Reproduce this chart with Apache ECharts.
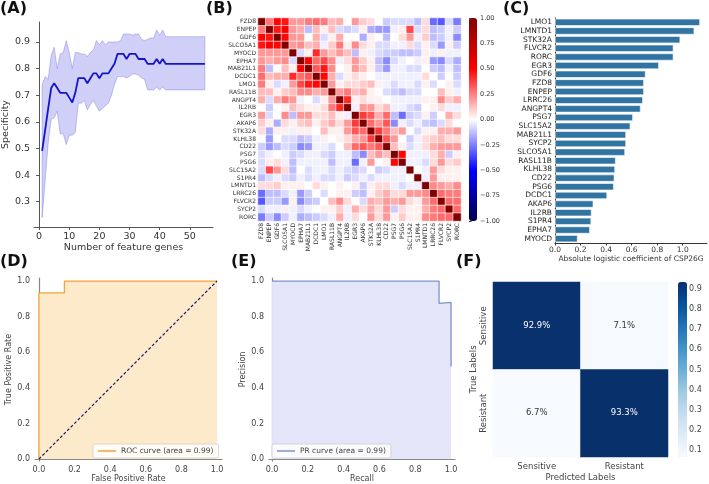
<!DOCTYPE html>
<html>
<head>
<meta charset="utf-8">
<script src="https://cdn.jsdelivr.net/npm/echarts@6/dist/echarts.min.js"></script>
<style>
  html, body { margin: 0; padding: 0; background: #fff; }
  #chart { width: 709px; height: 484px; }
</style>
</head>
<body>
<div id="chart"></div>
<script>
// (A) specificity vs number of feature genes
const nGenes = [1,2,3,4,5,6,7,8,9,10,11,12,13,14,15,16,17,18,19,20,21,22,23,24,25,26,27,28,29,30,
  31,32,33,34,35,36,37,38,39,40,41,42,43,44,45,46,47,48,49,50,51,52,53,54,55];
const specMean = [0.491,0.57,0.65,0.727,0.745,0.727,0.709,0.709,0.709,0.691,0.673,0.709,0.764,0.764,0.764,
  0.745,0.764,0.782,0.782,0.764,0.782,0.782,0.782,0.800,0.818,0.855,0.855,0.855,0.836,0.855,
  0.855,0.855,0.836,0.836,0.836,0.818,0.818,0.818,0.836,0.818,0.836,0.818,0.818,0.818,0.818,
  0.818,0.818,0.818,0.818,0.818,0.818,0.818,0.818,0.818,0.818];
const specUpper = [0.74,0.77,0.76,0.85,0.88,0.80,0.855,0.86,0.905,0.86,0.80,0.86,0.86,0.855,0.855,
  0.845,0.86,0.87,0.905,0.89,0.905,0.89,0.90,0.90,0.90,0.90,0.905,0.93,0.93,0.93,
  0.925,0.93,0.93,0.91,0.905,0.91,0.915,0.915,0.945,0.925,0.945,0.92,0.92,0.92,0.92,
  0.92,0.92,0.92,0.92,0.92,0.92,0.92,0.92,0.92,0.92];
const specLower = [0.24,0.38,0.52,0.61,0.615,0.64,0.555,0.555,0.515,0.55,0.55,0.56,0.67,0.67,0.68,
  0.645,0.665,0.68,0.66,0.64,0.65,0.66,0.67,0.70,0.74,0.77,0.77,0.77,0.765,0.77,
  0.78,0.78,0.775,0.765,0.76,0.72,0.72,0.72,0.73,0.72,0.73,0.72,0.72,0.72,0.72,
  0.72,0.72,0.72,0.72,0.72,0.72,0.72,0.72,0.72,0.72];
const specXTicks = [0, 10, 20, 30, 40, 50];
const specYTicks = [0.3, 0.4, 0.5, 0.6, 0.7, 0.8, 0.9];

// (B) correlation matrix (lower triangle, mirrored)
const genes = ['FZD8','ENPEP','GDF6','SLCO5A1','MYOCD','EPHA7','MAB21L1','DCDC1','LMO1','RASL11B',
  'ANGPT4','IL2RB','EGR3','AKAP6','STK32A','KLHL38','CD22','PSG7','PSG6','SLC15A2','S1PR4',
  'LMNTD1','LRRC26','FLVCR2','SYCP2','RORC'];
const corrLower = [
  [],
  [.26],
  [.49,.46],
  [.46,.52,.49],
  [.2,.2,.2,.2],
  [.2,.16,.2,.23,-.07],
  [.26,-.13,0,.13,.03,.52],
  [.29,.13,.16,.16,.42,.29,.33],
  [.26,.03,-.07,-.03,.2,.36,.46,.49],
  [.13,.13,.03,.1,.13,.23,.23,.16,.2],
  [.16,-.07,.16,.26,.2,-.03,0,-.07,.03,.2],
  [0,-.1,0,.03,.13,.07,.03,.03,.07,.26,.42],
  [.2,-.07,0,.23,-.13,.2,.2,.07,.07,.13,.03,-.03],
  [.1,.03,-.16,.07,.03,.1,.13,.03,.1,.16,.07,.2,.39],
  [.07,-.16,.03,.03,-.03,.03,.03,0,.13,.03,.03,.2,.33,.29],
  [0,-.2,0,-.07,-.07,-.13,-.1,-.03,.03,0,.03,.07,.16,.2,.39],
  [-.1,-.2,-.13,-.07,-.1,-.23,-.2,-.03,-.03,-.07,0,.13,.29,.33,.26,.33],
  [-.07,-.03,0,-.03,-.1,-.07,-.03,-.03,-.07,-.1,-.03,-.03,-.13,-.23,.13,.2,.13],
  [-.07,.03,.07,-.03,-.13,-.03,-.03,-.03,-.03,-.13,-.03,-.03,-.29,-.03,.2,0,.03,.49],
  [-.07,.36,.2,.07,-.13,0,-.07,-.03,-.03,-.07,-.03,-.07,-.1,-.07,0,-.1,-.07,-.03,-.03],
  [-.13,-.07,-.03,-.07,-.1,-.03,-.07,-.03,-.07,-.07,-.03,-.1,-.07,-.03,-.07,-.03,-.03,-.03,-.03,0],
  [.07,.07,.1,.03,.03,.03,0,.07,.03,0,.03,0,.03,-.1,.03,.07,.07,-.03,-.07,-.03,-.03],
  [-.29,-.13,-.13,-.07,-.03,-.2,-.1,0,-.07,0,.03,.03,-.1,-.13,.03,.1,.16,.07,.07,.2,.2,.23],
  [-.33,-.1,-.1,-.2,.03,-.23,-.13,-.1,0,.13,.23,.07,0,-.07,.16,.13,.2,.16,.2,.07,.03,.2,.29],
  [-.07,-.03,-.03,.03,-.03,-.07,-.03,0,.03,.03,.1,-.03,.16,.07,.16,.07,.2,-.1,.07,.03,.03,.16,.26,.29],
  [-.26,-.1,-.23,-.1,-.03,-.16,-.13,-.1,-.07,-.03,.16,-.03,.07,0,.2,.07,.2,.03,.1,.03,.03,.23,.26,.29,.29]
];
const corrColors = ['#00004c', '#0000ff', '#ffffff', '#ff0000', '#800000'];

// (C) absolute logistic coefficients
const coefGenes = ['LMO1','LMNTD1','STK32A','FLVCR2','RORC','EGR3','GDF6','FZD8','ENPEP','LRRC26',
  'ANGPT4','PSG7','SLC15A2','MAB21L1','SYCP2','SLCO5A1','RASL11B','KLHL38','CD22','PSG6',
  'DCDC1','AKAP6','IL2RB','S1PR4','EPHA7','MYOCD'];
const coefValues = [1.135,1.09,0.98,0.927,0.927,0.813,0.709,0.696,0.696,0.688,
  0.670,0.61,0.59,0.556,0.556,0.548,0.475,0.47,0.465,0.46,
  0.408,0.30,0.286,0.283,0.273,0.177];
const unitTicks = [0, 0.2, 0.4, 0.6, 0.8, 1.0];

// (D) ROC, (E) PR
const rocFpr = [0, 0, 0.143, 0.143, 1];
const rocTpr = [0, 0.933, 0.933, 1, 1];
const chanceLine = [0, 1];
const prRecall = [0, 0.933, 0.933, 1, 1];
const prPrecision = [1, 1, 0.875, 0.88, 0.52];

// (F) confusion matrix
const confLabels = ['Sensitive', 'Resistant'];
const confValues = [[0.929, 0.071], [0.067, 0.933]];
const confTicks = [0.1, 0.2, 0.3, 0.4, 0.5, 0.6, 0.7, 0.8, 0.9];

const FONT = 'DejaVu Sans';
const chart = echarts.init(document.getElementById('chart'));

const corrData = [];
for (let i = 0; i < genes.length; i++) {
  for (let j = 0; j < genes.length; j++) {
    const v = i === j ? 1 : (j < i ? corrLower[i][j] : corrLower[j][i]);
    corrData.push([j, i, v]);
  }
}
const confData = [];
confValues.forEach((row, i) => row.forEach((v, j) => {
  confData.push({ value: [j, i, v], label: { color: v > 0.5 ? '#ffffff' : '#333333' } });
}));

const pair = (xs, ys) => xs.map((x, k) => [x, ys[k]]);
const cbFmt = v => (v < -1e-9 ? '\u2212' : '') + Math.abs(v).toFixed(2);

const tickLbl = (size, extra) => Object.assign({ fontSize: size, color: '#333', fontFamily: FONT }, extra || {});
const hidden = { show: false };

// shaded band between specLower and specUpper
function renderBand(params, api) {
  const top = nGenes.map((n, k) => api.coord([n, specUpper[k]]));
  const bottom = nGenes.map((n, k) => api.coord([n, specLower[k]])).reverse();
  return {
    type: 'polygon',
    shape: { points: top.concat(bottom) },
    style: { fill: '#cfcff8', stroke: 'rgba(100,100,225,0.45)', lineWidth: 0.8 }
  };
}

const option = {
  animation: false,
  textStyle: { fontFamily: FONT },
  graphic: [
    { type: 'text', x: 0, y: 1, style: { text: '(A)', font: 'bold 16px DejaVu Sans', fill: '#111' } },
    { type: 'text', x: 206, y: 1, style: { text: '(B)', font: 'bold 16px DejaVu Sans', fill: '#111' } },
    { type: 'text', x: 503, y: 1, style: { text: '(C)', font: 'bold 16px DejaVu Sans', fill: '#111' } },
    { type: 'text', x: 0, y: 254, style: { text: '(D)', font: 'bold 16px DejaVu Sans', fill: '#111' } },
    { type: 'text', x: 231, y: 254, style: { text: '(E)', font: 'bold 16px DejaVu Sans', fill: '#111' } },
    { type: 'text', x: 456, y: 254, style: { text: '(F)', font: 'bold 16px DejaVu Sans', fill: '#111' } }
  ],
  grid: [
    { left: 31, top: 22, width: 182, height: 205 },
    { left: 258, top: 18, width: 203, height: 203 },
    { left: 469, top: 18, width: 8, height: 203 },
    { left: 555, top: 18, width: 152, height: 225 },
    { left: 35, top: 278, width: 187, height: 184 },
    { left: 269, top: 278, width: 186, height: 184 },
    { left: 493, top: 282, width: 175, height: 175 },
    { left: 678, top: 282, width: 9, height: 175 }
  ],
  xAxis: [
    { gridIndex: 0, type: 'value', min: -1.7, max: 57.7,
      axisLine: { lineStyle: { color: '#555' } },
      axisTick: { customValues: specXTicks, length: 3, lineStyle: { color: '#555' } },
      axisLabel: tickLbl(9.5, { customValues: specXTicks, margin: 5 }),
      splitLine: hidden,
      name: 'Number of feature genes', nameLocation: 'middle', nameGap: 16,
      nameTextStyle: { fontSize: 9.5, color: '#333' } },
    { gridIndex: 1, type: 'category', data: genes,
      axisLine: hidden,
      axisTick: { alignWithLabel: true, interval: 0, length: 2, lineStyle: { color: '#333' } },
      axisLabel: tickLbl(6, { rotate: 90, interval: 0, margin: 2 }) },
    { gridIndex: 2, type: 'value', show: false, min: 0, max: 1 },
    { gridIndex: 3, type: 'value', min: 0, max: 1.19,
      axisLine: { show: true, lineStyle: { color: '#333' } },
      axisTick: { show: true, customValues: unitTicks, length: 2.5, lineStyle: { color: '#333' } },
      axisLabel: tickLbl(7.5, { customValues: unitTicks, margin: 3, formatter: v => v.toFixed(1) }),
      splitLine: hidden,
      name: 'Absolute logistic coefficient of CSP26G', nameLocation: 'middle', nameGap: 10,
      nameTextStyle: { fontSize: 7.5, color: '#333' } },
    { gridIndex: 4, type: 'value', min: -0.022, max: 1.028,
      axisLine: { lineStyle: { color: '#888', width: 1.2 } },
      axisTick: hidden,
      axisLabel: tickLbl(8, { customValues: unitTicks, margin: 5, color: '#444', formatter: v => v.toFixed(1) }),
      splitLine: hidden,
      name: 'False Positive Rate', nameLocation: 'middle', nameGap: 14,
      nameTextStyle: { fontSize: 8, color: '#444' } },
    { gridIndex: 5, type: 'value', min: -0.017, max: 1.022,
      axisLine: { lineStyle: { color: '#888', width: 1.2 } },
      axisTick: hidden,
      axisLabel: tickLbl(8, { customValues: unitTicks, margin: 5, color: '#444', formatter: v => v.toFixed(1) }),
      splitLine: hidden,
      name: 'Recall', nameLocation: 'middle', nameGap: 14,
      nameTextStyle: { fontSize: 8, color: '#444' } },
    { gridIndex: 6, type: 'category', data: confLabels,
      axisLine: hidden, axisTick: hidden,
      axisLabel: tickLbl(8.5, { margin: 5, color: '#444' }),
      name: 'Predicted Labels', nameLocation: 'middle', nameGap: 16,
      nameTextStyle: { fontSize: 8.5, color: '#444' } },
    { gridIndex: 7, type: 'value', show: false, min: 0, max: 1 }
  ],
  yAxis: [
    { gridIndex: 0, type: 'value', min: 0.205, max: 0.975,
      axisLine: { show: true, lineStyle: { color: '#555' } },
      axisTick: { show: true, customValues: specYTicks, length: 3, lineStyle: { color: '#555' } },
      axisLabel: tickLbl(9.5, { customValues: specYTicks, margin: 4, formatter: v => v.toFixed(1) }),
      splitLine: hidden,
      name: 'Specificity', nameLocation: 'middle', nameGap: 21,
      nameTextStyle: { fontSize: 9.5, color: '#333' } },
    { gridIndex: 1, type: 'category', data: genes, inverse: true,
      axisLine: hidden,
      axisTick: { alignWithLabel: true, interval: 0, length: 2, lineStyle: { color: '#333' } },
      axisLabel: tickLbl(6, { interval: 0, margin: 2 }) },
    { gridIndex: 2, type: 'value', position: 'right', min: -1, max: 1, interval: 0.25,
      axisLine: hidden,
      axisTick: { show: true, length: 2.5, lineStyle: { color: '#333' } },
      axisLabel: tickLbl(6.5, { margin: 3, formatter: cbFmt }),
      splitLine: hidden },
    { gridIndex: 3, type: 'category', data: coefGenes, inverse: true,
      axisLine: { lineStyle: { color: '#333' } },
      axisTick: { alignWithLabel: true, interval: 0, length: 2.5, lineStyle: { color: '#333' } },
      axisLabel: tickLbl(7.5, { interval: 0, margin: 3, color: '#222' }) },
    { gridIndex: 4, type: 'value', min: -0.011, max: 1.017,
      axisLine: { show: true, lineStyle: { color: '#888', width: 1.2 } },
      axisTick: hidden,
      axisLabel: tickLbl(8, { customValues: unitTicks, margin: 5, color: '#444', formatter: v => v.toFixed(1) }),
      splitLine: hidden,
      name: 'True Positive Rate', nameLocation: 'middle', nameGap: 19,
      nameTextStyle: { fontSize: 8, color: '#444' } },
    { gridIndex: 5, type: 'value', min: -0.011, max: 1.017,
      axisLine: { show: true, lineStyle: { color: '#888', width: 1.2 } },
      axisTick: hidden,
      axisLabel: tickLbl(8, { customValues: unitTicks, margin: 5, color: '#444', formatter: v => v.toFixed(1) }),
      splitLine: hidden,
      name: 'Precision', nameLocation: 'middle', nameGap: 19,
      nameTextStyle: { fontSize: 8, color: '#444' } },
    { gridIndex: 6, type: 'category', data: confLabels, inverse: true,
      axisLine: hidden, axisTick: hidden,
      axisLabel: tickLbl(8.5, { rotate: 90, margin: 5, color: '#444' }),
      name: 'True Labels', nameLocation: 'middle', nameGap: 15,
      nameTextStyle: { fontSize: 8.5, color: '#444' } },
    { gridIndex: 7, type: 'value', position: 'right', min: 0.067, max: 0.933,
      axisLine: hidden,
      axisTick: { show: true, customValues: confTicks, length: 3, lineStyle: { color: '#333' } },
      axisLabel: tickLbl(8, { customValues: confTicks, margin: 2, color: '#444', formatter: v => v.toFixed(1) }),
      splitLine: hidden }
  ],
  visualMap: [
    { type: 'continuous', seriesIndex: 2, min: -1, max: 1, calculable: false,
      left: 469, top: 18, itemWidth: 8, itemHeight: 203, padding: 0,
      inRange: { color: corrColors } },
    { type: 'continuous', seriesIndex: 7, min: 0.067, max: 0.933, calculable: false,
      left: 678, top: 282, itemWidth: 9, itemHeight: 175, padding: 0,
      inRange: { color: ['#f7fbff','#deebf7','#c6dbef','#9ecae1','#6baed6','#4292c6','#2171b5','#08519c','#08306b'] } }
  ],
  legend: [
    { data: ['ROC curve (area = 0.99)'], left: 93, top: 444, orient: 'vertical',
      icon: 'rect', itemWidth: 18, itemHeight: 1.5, itemGap: 0, padding: [3, 5],
      borderColor: '#d0d0d0', borderWidth: 0.8, borderRadius: 2, backgroundColor: 'rgba(255,255,255,0.85)',
      textStyle: { fontSize: 7.5, color: '#444' }, selectedMode: false },
    { data: ['PR curve (area = 0.99)'], left: 272, top: 444, orient: 'vertical',
      icon: 'rect', itemWidth: 18, itemHeight: 1.5, itemGap: 0, padding: [3, 5],
      borderColor: '#d0d0d0', borderWidth: 0.8, borderRadius: 2, backgroundColor: 'rgba(255,255,255,0.85)',
      textStyle: { fontSize: 7.5, color: '#444' }, selectedMode: false }
  ],
  series: [
    { type: 'custom', xAxisIndex: 0, yAxisIndex: 0, data: [[nGenes[0], specLower[0]]],
      renderItem: renderBand, silent: true, z: 1 },
    { type: 'line', xAxisIndex: 0, yAxisIndex: 0, symbol: 'none', z: 3,
      data: pair(nGenes, specMean),
      lineStyle: { color: '#1414c8', width: 1.8 } },
    { type: 'heatmap', xAxisIndex: 1, yAxisIndex: 1, data: corrData,
      itemStyle: { borderColor: '#ffffff', borderWidth: 0.6 }, emphasis: { disabled: true } },
    { type: 'bar', xAxisIndex: 3, yAxisIndex: 3, data: coefValues, barCategoryGap: '18%',
      itemStyle: { color: '#3274a1', borderColor: '#ffffff', borderWidth: 0.6 } },
    { type: 'line', name: 'ROC curve (area = 0.99)', xAxisIndex: 4, yAxisIndex: 4, symbol: 'none',
      color: '#f5a23a', data: pair(rocFpr, rocTpr),
      lineStyle: { color: '#f5a23a', width: 1.3 },
      areaStyle: { color: '#fdeacb', opacity: 1 } },
    { type: 'line', xAxisIndex: 4, yAxisIndex: 4, symbol: 'none',
      data: pair(chanceLine, chanceLine),
      lineStyle: { color: '#1c1c6b', width: 1.2, type: [3, 2] } },
    { type: 'line', name: 'PR curve (area = 0.99)', xAxisIndex: 5, yAxisIndex: 5, symbol: 'none',
      color: '#7b95cc', data: pair(prRecall, prPrecision),
      lineStyle: { color: '#7b95cc', width: 1.3 },
      areaStyle: { color: '#e4e5f8', opacity: 1 } },
    { type: 'heatmap', xAxisIndex: 6, yAxisIndex: 6, data: confData,
      label: { show: true, fontSize: 8.5, formatter: p => (p.value[2] * 100).toFixed(1) + '%' },
      emphasis: { disabled: true } }
  ]
};

chart.setOption(option);
</script>
</body>
</html>
